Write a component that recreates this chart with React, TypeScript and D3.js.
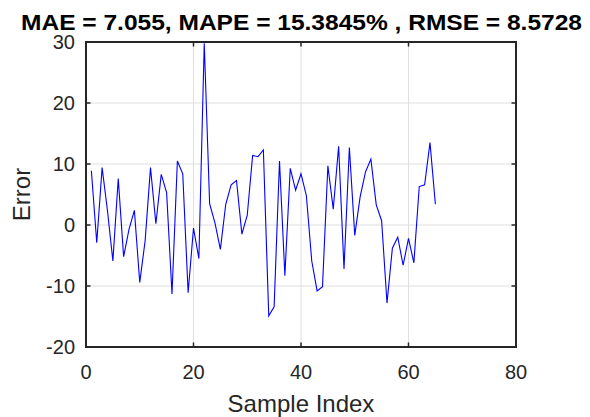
import React from "react";
import * as d3 from "d3";

const errors: number[] = [
  8.9, -2.9, 9.4, 2.3, -5.9, 7.6, -5.2, -0.7, 2.4, -9.4,
  -2.6, 9.4, 0.2, 8.3, 5.3, -11.3, 10.5, 8.4, -11.1, -0.5,
  -5.5, 29.8, 3.5, 0.3, -4.0, 3.4, 6.6, 7.3, -1.5, 1.6,
  11.4, 11.2, 12.3, -14.9, -13.4, 10.5, -8.3, 9.3, 5.7, 8.4,
  4.8, -5.9, -10.8, -10.1, 9.7, 2.6, 12.9, -7.2, 12.7, -1.7,
  4.6, 8.7, 10.8, 3.3, 0.7, -12.8, -3.8, -2.0, -6.6, -2.2,
  -6.2, 6.3, 6.6, 13.5, 3.4,
];
const xTicks: number[] = [0, 20, 40, 60, 80];
const yTicks: number[] = [-20, -10, 0, 10, 20, 30];
const titleText = "MAE = 7.055, MAPE = 15.3845% , RMSE = 8.5728";
const xLabel = "Sample Index";
const yLabel = "Error";

const W = 590;
const H = 417;
const L = 86, R = 516, T = 42, B = 347;
const ink = "#262626";
const font = "'Liberation Sans', Arial, Helvetica, sans-serif";

export default function App() {
  const x = d3.scaleLinear().domain([0, 80]).range([L, R]);
  const y = d3.scaleLinear().domain([-20, 30]).range([B, T]);
  const line = d3
    .line<number>()
    .x((_, i) => x(i + 1))
    .y((d) => y(d));
  const tl = 4.5;
  return (
    <svg
      width={W}
      height={H}
      style={{ position: "absolute", left: 0, top: 0, background: "#fff" }}
      fontFamily={font}
    >
      <rect x={0} y={0} width={W} height={H} fill="#fff" />
      {/* grid */}
      {xTicks.map((t) => (
        <line key={"gx" + t} x1={x(t)} x2={x(t)} y1={T} y2={B} stroke="#dfdfdf" strokeWidth={1} />
      ))}
      {yTicks.map((t) => (
        <line key={"gy" + t} x1={L} x2={R} y1={y(t)} y2={y(t)} stroke="#dfdfdf" strokeWidth={1} />
      ))}
      {/* data */}
      <path d={line(errors) || ""} fill="none" stroke="#0000ff" strokeWidth={1.1} strokeLinejoin="miter" />
      {/* ticks */}
      {xTicks.map((t) => (
        <g key={"tx" + t}>
          <line x1={x(t)} x2={x(t)} y1={B} y2={B - tl} stroke={ink} strokeWidth={1.5} />
          <line x1={x(t)} x2={x(t)} y1={T} y2={T + tl} stroke={ink} strokeWidth={1.5} />
          <text x={x(t)} y={379} textAnchor="middle" fontSize={20} fill={ink}>
            {t}
          </text>
        </g>
      ))}
      {yTicks.map((t) => (
        <g key={"ty" + t}>
          <line x1={L} x2={L + tl} y1={y(t)} y2={y(t)} stroke={ink} strokeWidth={1.5} />
          <line x1={R} x2={R - tl} y1={y(t)} y2={y(t)} stroke={ink} strokeWidth={1.5} />
          <text x={75} y={y(t) + 7} textAnchor="end" fontSize={20} fill={ink}>
            {t}
          </text>
        </g>
      ))}
      {/* box */}
      <rect x={L} y={T} width={R - L} height={B - T} fill="none" stroke={ink} strokeWidth={2} />
      {/* labels */}
      <text x={(L + R) / 2} y={412} textAnchor="middle" fontSize={24} fill={ink}>
        {xLabel}
      </text>
      <text
        transform={`translate(29.5, ${(T + B) / 2}) rotate(-90)`}
        textAnchor="middle"
        fontSize={24}
        fill={ink}
      >
        {yLabel}
      </text>
      <text
        x={301.5}
        y={30}
        textAnchor="middle"
        fontSize={22}
        fontWeight="bold"
        fill="#000"
        textLength={561}
        lengthAdjust="spacingAndGlyphs"
      >
        {titleText}
      </text>
    </svg>
  );
}
